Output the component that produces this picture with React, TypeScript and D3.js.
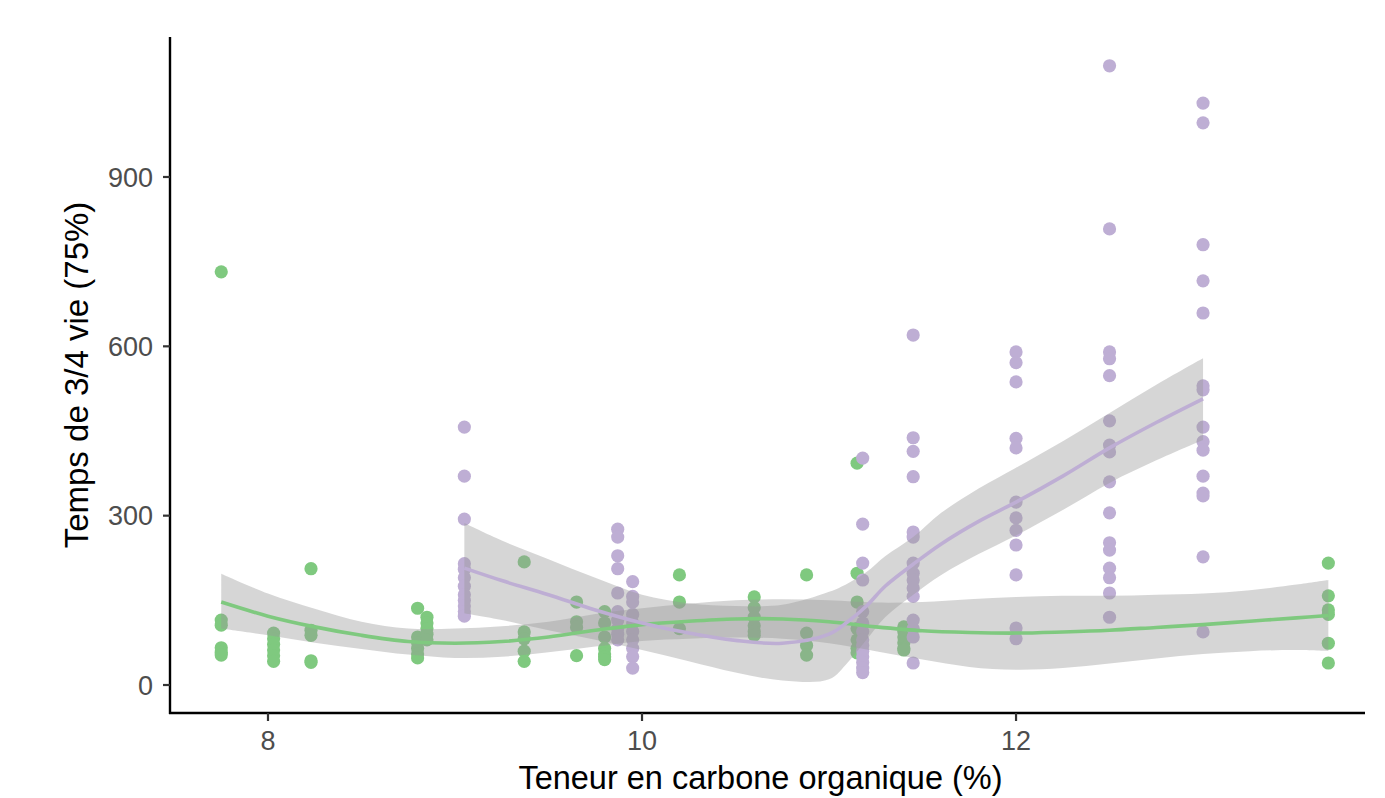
import * as d3 from "d3";

// colonnes de x (teneur en carbone) et valeurs observées par colonne
const greenX = [7.75, 8.03, 8.23, 8.8, 8.85, 9.37, 9.65, 9.8, 10.2, 10.6, 10.88, 11.15, 11.4, 13.67];
const greenY = [
  [732, 115, 106, 66, 58, 53],
  [92, 82, 72, 62, 52, 42],
  [206, 97, 88, 43, 40],
  [136, 85, 75, 65, 55, 48],
  [120, 110, 100, 90, 80],
  [218, 94, 82, 60, 42],
  [147, 112, 102, 52],
  [130, 110, 85, 65, 55, 50, 45],
  [195, 147, 100],
  [156, 137, 120, 105, 95, 88],
  [195, 92, 70, 53],
  [393, 198, 147, 100, 80, 65, 57],
  [103, 95, 85, 75, 65, 62],
  [216, 158, 133, 125, 74, 39],
];

const purpleX = [9.05, 9.87, 9.95, 11.18, 11.45, 12.0, 12.5, 13.0];
const purpleY = [
  [457, 370, 294, 215, 205, 190, 175, 160, 150, 140, 130, 122],
  [276, 262, 229, 206, 163, 130, 115, 100, 90, 80],
  [183, 157, 147, 125, 110, 95, 80, 65, 50, 30],
  [402, 285, 216, 186, 130, 110, 95, 80, 70, 60, 50, 40, 30, 22],
  [620, 438, 414, 369, 271, 262, 216, 198, 186, 172, 157, 115, 100, 85, 39],
  [590, 571, 537, 437, 420, 324, 296, 274, 248, 195, 101, 82],
  [1097, 808, 590, 578, 548, 468, 425, 413, 360, 305, 252, 239, 207, 190, 163, 120],
  [1031, 996, 780, 716, 659, 530, 523, 457, 431, 416, 370, 340, 335, 227, 94],
];

// courbes loess
const greenFitX = [7.75, 8.0, 8.25, 8.5, 8.75, 9.0, 9.25, 9.5, 9.75, 10.0, 10.25, 10.5, 10.75, 11.0, 11.25, 11.5, 11.75, 12.0, 12.25, 12.5, 12.75, 13.0, 13.25, 13.5, 13.67];
const greenFit = [147, 122, 103, 88, 77, 74, 77, 85, 97, 107, 113, 117, 117, 112, 103, 96, 93, 92, 94, 97, 102, 107, 113, 119, 123];
const greenLo = [100, 88, 75, 64, 54, 48, 50, 58, 68, 78, 82, 84, 82, 74, 60, 45, 32, 27, 30, 38, 47, 55, 60, 62, 60];
const greenHi = [197, 162, 135, 112, 100, 100, 104, 112, 126, 136, 144, 150, 152, 150, 146, 147, 152, 156, 158, 158, 160, 162, 168, 178, 186];

const purpleFitX = [9.05, 9.25, 9.5, 9.75, 10.0, 10.25, 10.5, 10.75, 11.0, 11.1, 11.2, 11.3, 11.45, 11.6, 11.8, 12.0, 12.25, 12.5, 12.75, 13.0];
const purpleFit = [207, 185, 160, 133, 110, 92, 79, 74, 90, 112, 140, 175, 214, 250, 290, 324, 370, 420, 465, 507];
const purpleLo = [127, 115, 97, 80, 62, 42, 22, 8, 10, 40, 80, 120, 160, 195, 232, 265, 310, 358, 398, 434];
const purpleHi = [287, 256, 223, 190, 160, 145, 140, 142, 165, 180, 200, 228, 262, 305, 348, 385, 432, 482, 532, 579];

const xTicks = [8, 10, 12];
const yTicks = [0, 300, 600, 900];

const GREEN = "#7FC97F";
const PURPLE = "#BEAED4";

const W = 1385;
const H = 798;
const left = 170;
const right = 1365;
const top = 37;
const bottom = 713;

const x = d3.scaleLinear().domain([7.476, 13.866]).range([left, right]);
const y = d3.scaleLinear().domain([-49.6, 1148]).range([bottom, top]);

function flatten(xs: number[], ys: number[][]) {
  const out: [number, number][] = [];
  xs.forEach((xv, i) => ys[i].forEach((v) => out.push([xv, v])));
  return out;
}

function band(xs: number[], lo: number[], hi: number[]) {
  const rows = xs.map((xv, i) => ({ x: xv, lo: lo[i], hi: hi[i] }));
  return d3
    .area<{ x: number; lo: number; hi: number }>()
    .x((d) => x(d.x))
    .y0((d) => y(d.lo))
    .y1((d) => y(d.hi))
    .curve(d3.curveCatmullRom)(rows) as string;
}

function fitLine(xs: number[], fit: number[]) {
  return d3
    .line<number>()
    .x((_, i) => x(xs[i]))
    .y((d) => y(d))
    .curve(d3.curveCatmullRom)(fit) as string;
}

export default function App() {
  const gPts = flatten(greenX, greenY);
  const pPts = flatten(purpleX, purpleY);
  const font = "'Liberation Sans', Arial, sans-serif";

  return (
    <svg
      width={W}
      height={H}
      style={{ position: "absolute", left: 0, top: 0, background: "#fff" }}
      fontFamily={font}
    >
      {gPts.map((d, i) => (
        <circle key={"g" + i} cx={x(d[0])} cy={y(d[1])} r={6.6} fill={GREEN} />
      ))}
      {pPts.map((d, i) => (
        <circle key={"p" + i} cx={x(d[0])} cy={y(d[1])} r={6.6} fill={PURPLE} />
      ))}

      <path d={band(greenFitX, greenLo, greenHi)} fill="#999999" fillOpacity={0.4} />
      <path d={band(purpleFitX, purpleLo, purpleHi)} fill="#999999" fillOpacity={0.4} />
      <path d={fitLine(greenFitX, greenFit)} fill="none" stroke={GREEN} strokeWidth={3.6} />
      <path d={fitLine(purpleFitX, purpleFit)} fill="none" stroke={PURPLE} strokeWidth={3.6} />

      {/* axes */}
      <line x1={left} x2={left} y1={top} y2={bottom + 1} stroke="#000" strokeWidth={2.4} />
      <line x1={left - 1} x2={right} y1={bottom} y2={bottom} stroke="#000" strokeWidth={2.4} />
      {yTicks.map((t) => (
        <g key={"y" + t}>
          <line x1={left - 7} x2={left} y1={y(t)} y2={y(t)} stroke="#333" strokeWidth={2.2} />
          <text
            x={left - 17}
            y={y(t)}
            dy="0.36em"
            textAnchor="end"
            fontSize={27}
            fill="#4d4d4d"
          >
            {t}
          </text>
        </g>
      ))}
      {xTicks.map((t) => (
        <g key={"x" + t}>
          <line x1={x(t)} x2={x(t)} y1={bottom} y2={bottom + 8} stroke="#333" strokeWidth={2.2} />
          <text x={x(t)} y={bottom + 37} textAnchor="middle" fontSize={27} fill="#4d4d4d">
            {t}
          </text>
        </g>
      ))}
      <text x={(left + right) / 2 - 7} y={789} textAnchor="middle" fontSize={32.5} fill="#000">
        Teneur en carbone organique (%)
      </text>
      <text
        transform={`translate(88, ${(top + bottom) / 2}) rotate(-90)`}
        textAnchor="middle"
        fontSize={33}
        fill="#000"
      >
        Temps de 3/4 vie (75%)
      </text>
    </svg>
  );
}
